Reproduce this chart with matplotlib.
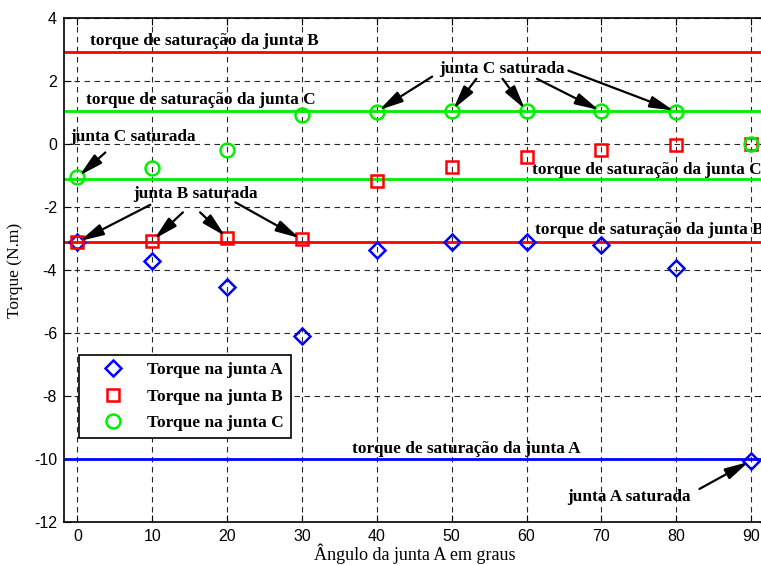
import matplotlib.pyplot as plt

# Joint A angle (degrees) and resulting joint torques (N.m)
angles = [0, 10, 20, 30, 40, 50, 60, 70, 80, 90]
torque_a = [-3.10, -3.70, -4.55, -6.10, -3.35, -3.10, -3.10, -3.22, -3.95, -10.05]
torque_b = [-3.12, -3.08, -2.98, -3.03, -1.19, -0.72, -0.40, -0.19, -0.03, 0.0]
torque_c = [-1.06, -0.76, -0.20, 0.92, 1.03, 1.04, 1.04, 1.04, 1.03, 0.0]

# Saturation torques of each joint
sat_a = -10.0
sat_b = (2.93, -3.12)
sat_c = (1.06, -1.11)

serif = 'Liberation Serif'
plt.rcParams['font.family'] = 'Liberation Sans'
plt.rcParams['font.size'] = 11.5
plt.rcParams['axes.unicode_minus'] = False

fig = plt.figure(figsize=(7.61, 5.65), dpi=100)
ax = fig.add_axes([64 / 761, 43 / 565, 702 / 761, 504 / 565])

ax.axhline(sat_b[0], color='#ff0000', lw=2, zorder=2)
ax.axhline(sat_b[1], color='#ff0000', lw=2, zorder=2)
ax.axhline(sat_c[0], color='#00ee00', lw=2, zorder=2)
ax.axhline(sat_c[1], color='#00ee00', lw=2, zorder=2)
ax.axhline(sat_a, color='#0000ff', lw=2, zorder=2)

ax.plot(angles, torque_a, 'D', ms=8, mfc='none', mec='#0000ff', mew=1.8,
        label='Torque na junta A', zorder=3)
ax.plot(angles, torque_b, 's', ms=9, mfc='none', mec='#ff0000', mew=1.8,
        label='Torque na junta B', zorder=3)
ax.plot(angles, torque_c, 'o', ms=10, mfc='none', mec='#00ee00', mew=1.8,
        label='Torque na junta C', zorder=3)

ax.set_xlim(-1.78, 91.99)
ax.set_ylim(-12, 4)
ax.set_xticks(range(0, 100, 10))
ax.set_yticks(range(-12, 5, 2))
ax.tick_params(direction='in', top=True, right=True, length=5, pad=5)
ax.grid(True, color='0.15', linestyle=(0, (5, 4)), lw=0.8)
for s in ax.spines.values():
    s.set_linewidth(1.2)

ax.set_xlabel('Ângulo da junta A em graus', family=serif, fontsize=13, labelpad=0)
ax.set_ylabel('Torque (N.m)', family=serif, fontsize=12.5, labelpad=8)

bold = dict(family=serif, fontweight='bold', fontsize=12.4, va='center', ha='left', zorder=4)
ax.text(1.7, 3.28, 'torque de saturação da junta B', **bold)
ax.text(1.1, 1.41, 'torque de saturação da junta C', **bold)
ax.text(60.8, -0.82, 'torque de saturação da junta C', **bold)
ax.text(61.2, -2.73, 'torque de saturação da junta B', **bold)
ax.text(36.7, -9.68, 'torque de saturação da junta A', **bold)

arrow = dict(arrowstyle='-|>,head_length=0.9,head_width=0.22', color='k', lw=1.6,
             mutation_scale=16, shrinkA=0, shrinkB=2)

# joint C saturated (upper group)
ax.text(48.3, 2.39, 'junta C saturada', **bold)
tails_c = [(47.4, 2.14), (53.3, 2.07), (56.8, 2.07), (61.4, 2.07), (65.6, 2.33)]
for (tx, ty), i in zip(tails_c, [4, 5, 6, 7, 8]):
    ax.annotate('', xy=(angles[i], torque_c[i]), xytext=(tx, ty), arrowprops=arrow)

# joint C saturated at 0 degrees
ax.text(-0.93, 0.23, 'junta C saturada', **bold)
ax.annotate('', xy=(angles[0], torque_c[0]), xytext=(3.74, -0.27), arrowprops=arrow)

# joint B saturated
ax.text(7.5, -1.59, 'junta B saturada', **bold)
tails_b = [(9.75, -1.93), (14.1, -2.17), (16.4, -2.17), (21.1, -1.85)]
for (tx, ty), i in zip(tails_b, [0, 1, 2, 3]):
    ax.annotate('', xy=(angles[i], torque_b[i]), xytext=(tx, ty), arrowprops=arrow)

# joint A saturated
ax.text(65.5, -11.2, 'junta A saturada', **bold)
ax.annotate('', xy=(angles[9], torque_a[9]), xytext=(83.1, -10.95), arrowprops=arrow)

leg = ax.legend(loc='upper left', bbox_to_anchor=(0.021, 0.331), fancybox=False,
                edgecolor='k', framealpha=1, borderpad=0.4, handlelength=3.2,
                handletextpad=0.35, labelspacing=0.6, borderaxespad=0,
                prop=dict(family=serif, weight='bold', size=12.5))
leg.get_frame().set_linewidth(1.2)
leg.set_zorder(5)

fig.savefig('out.png', dpi=100)
